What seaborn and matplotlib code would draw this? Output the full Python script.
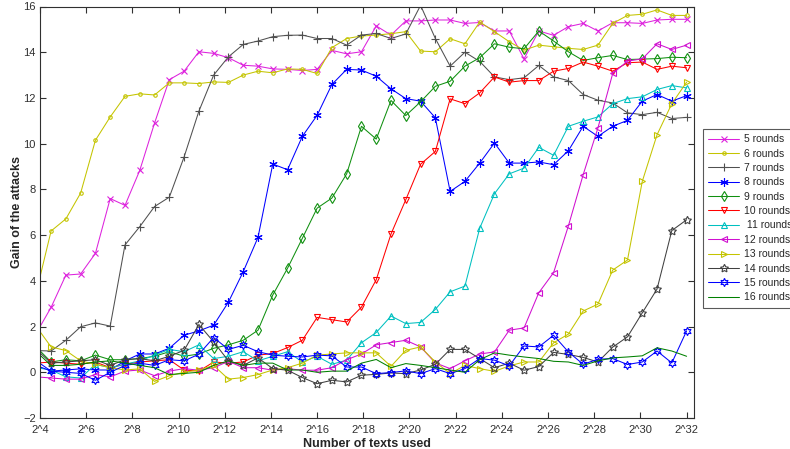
import numpy as np
import pandas as pd
import matplotlib
matplotlib.use("Agg")
import matplotlib.pyplot as plt
import seaborn as sns

# log2 of the number of texts: 45 sample points, the first one just left of 2^4
log2_texts = [round(32 - 0.64 * k, 2) for k in range(44, -1, -1)]

gain_5 = [1.71, 2.84, 4.25, 4.3, 5.2, 7.6, 7.3, 8.83, 10.9, 12.8, 13.17, 14.02, 13.95, 13.76, 13.43,
          13.39, 13.27, 13.25, 13.2, 13.25, 14.08, 13.93, 14.02, 15.15, 14.75, 15.37, 15.37, 15.41, 15.41,
          15.26, 15.3, 14.93, 14.93, 13.71, 14.93, 14.74, 15.12, 15.26, 14.93, 15.29, 15.29, 15.26, 15.41,
          15.44, 15.44]
gain_6 = [3.5, 6.18, 6.71, 7.84, 10.15, 11.17, 12.07, 12.18, 12.13, 12.66, 12.66, 12.63, 12.7, 12.68, 13.0,
          13.17, 13.1, 13.27, 13.25, 13.07, 14.2, 14.6, 14.71, 14.75, 14.81, 14.9, 14.05, 14.02, 14.59,
          14.37, 15.32, 14.9, 14.46, 14.09, 14.31, 14.24, 14.17, 14.12, 14.31, 15.26, 15.61, 15.66, 15.85,
          15.61, 15.61]
gain_7 = [0.95, 0.93, 1.4, 1.99, 2.16, 2.02, 5.57, 6.37, 7.25, 7.66, 9.42, 11.42, 13.0, 13.8, 14.34,
          14.49, 14.68, 14.74, 14.75, 14.6, 14.6, 14.31, 14.75, 14.82, 14.6, 14.8, 16.05, 14.6, 13.39,
          14.0, 13.6, 12.92, 12.8, 12.88, 13.42, 12.92, 12.76, 12.15, 11.9, 11.78, 11.35, 11.27, 11.37,
          11.1, 11.15]
gain_8 = [0.5, 0.05, 0.1, 0.15, 0.1, 0.1, 0.5, 0.8, 0.8, 1.05, 1.62, 1.81, 2.06, 3.07, 4.4,
          5.9, 9.11, 8.86, 10.32, 11.24, 12.59, 13.25, 13.22, 12.95, 12.4, 11.97, 11.86, 11.13, 7.91,
          8.35, 9.15, 10.03, 9.15, 9.15, 9.2, 9.08, 9.69, 10.76, 10.32, 10.76, 11.02, 11.86, 12.15,
          11.86, 12.1]
gain_9 = [1.1, 0.45, 0.55, 0.5, 0.75, 0.55, 0.55, 0.6, 0.7, 0.9, 0.7, 0.8, 1.05, 1.2, 1.4,
          1.84, 3.38, 4.55, 5.86, 7.18, 7.62, 8.68, 10.76, 10.2, 11.89, 11.23, 11.83, 12.51, 12.73,
          13.39, 13.76, 14.37, 14.22, 14.15, 14.93, 14.49, 14.02, 13.64, 13.76, 13.86, 13.68, 13.7, 13.72,
          13.78, 13.76]
gain_10 = [0.4, 0.45, 0.4, 0.35, 0.45, 0.2, 0.35, 0.45, 0.5, 0.55, 0.1, 0.05, 0.45, 0.4, 0.45,
           0.75, 0.82, 1.08, 1.4, 2.4, 2.3, 2.2, 2.85, 4.05, 6.05, 7.55, 9.1, 9.66, 11.96,
           11.75, 12.22, 12.92, 12.69, 12.76, 12.76, 13.17, 13.29, 13.57, 13.39, 13.17, 13.54, 13.57, 13.25,
           13.39, 13.32]
gain_11 = [0.2, 0.1, -0.2, -0.25, 0.35, 0.2, 0.35, 0.5, 0.75, 1.0, 0.9, 1.2, 0.6, 0.7, 0.9,
           0.5, 0.7, 0.9, 0.45, 0.7, 0.35, 0.53, 1.29, 1.74, 2.46, 2.13, 2.18, 2.75, 3.52,
           3.77, 6.3, 7.81, 8.68, 8.93, 9.84, 9.49, 10.76, 10.98, 11.17, 11.75, 11.97, 12.05, 12.37,
           12.54, 12.44]
gain_12 = [-0.2, -0.25, -0.3, -0.3, -0.1, -0.2, 0.05, 0.1, -0.15, 0.05, 0.16, 0.09, 0.2, 0.48, 0.2,
           0.2, 0.09, 0.16, 0.09, 0.09, 0.2, 0.55, 0.8, 1.2, 1.3, 1.4, 1.11, 0.41, 0.16,
           0.5, 0.8, 0.89, 1.84, 1.94, 3.48, 4.36, 6.4, 8.64, 10.69, 13.07, 13.61, 13.71, 14.37,
           14.12, 14.31]
gain_13 = [2.0, 1.11, 0.95, 0.5, 0.35, 0.2, 0.1, 0.15, -0.4, -0.15, 0.0, 0.1, 0.3, -0.3, -0.23,
           -0.1, 0.1, 0.2, 0.4, 0.75, 0.8, 0.85, 0.85, 0.85, 0.26, 0.96, 1.11, 0.45, -0.06,
           0.3, 0.16, 0.04, 0.28, 0.45, 0.45, 1.29, 1.67, 2.68, 2.98, 4.47, 4.91, 8.35, 10.39,
           11.75, 12.69]
gain_14 = [1.0, 0.4, 0.45, 0.5, 0.55, 0.3, 0.55, 0.6, 0.5, 0.7, 0.96, 2.09, 1.33, 0.5, 0.3,
           0.63, 0.16, 0.09, -0.23, -0.5, -0.35, -0.42, -0.13, -0.09, -0.03, -0.06, 0.1, 0.35, 1.0,
           1.0, 0.6, 0.2, 0.4, 0.09, 0.25, 0.87, 0.78, 0.65, 0.45, 1.1, 1.55, 2.6, 3.64,
           6.2, 6.67]
gain_15 = [0.3, 0.05, 0.0, -0.05, -0.35, 0.0, 0.3, 0.4, 0.3, 0.55, 0.5, 0.79, 1.52, 1.0, 1.18,
           0.9, 0.75, 0.7, 0.67, 0.75, 0.72, 0.23, 0.23, -0.06, -0.01, 0.06, -0.06, 0.16, -0.06,
           0.16, 0.6, 0.53, 0.28, 1.15, 1.11, 1.62, 0.89, 0.35, 0.57, 0.6, 0.34, 0.45, 0.93,
           0.41, 1.81]
gain_16 = [0.9, 0.3, 0.3, 0.35, 0.45, 0.5, 0.4, 0.3, 0.2, -0.1, -0.05, 0.0, 0.3, 0.5, 0.3,
           0.4, 0.4, 0.1, 0.1, 0.0, 0.05, 0.05, 0.4, 0.56, 0.2, 0.38, 0.3, 0.2, 0.1,
           0.0, 0.55, 0.85, 0.75, 0.67, 0.6, 0.48, 0.45, 0.3, 0.5, 0.63, 0.67, 0.72, 1.07,
           0.93, 0.7]

labels = ["5 rounds", "6 rounds", "7 rounds", "8 rounds", "9 rounds", "10 rounds",
          " 11 rounds", "12 rounds", "13 rounds", "14 rounds", "15 rounds", "16 rounds"]
series = [gain_5, gain_6, gain_7, gain_8, gain_9, gain_10,
          gain_11, gain_12, gain_13, gain_14, gain_15, gain_16]

# colour, marker, marker size for each round count
styles = [
    ("#DD22DD", "x", 5),
    ("#C4C400", ".", 5),
    ("#505050", "+", 6),
    ("#0000FF", (6, 2, 0), 6),
    ("#109010", "d", 5),
    ("#FF0000", "v", 5),
    ("#00C0C0", "^", 5),
    ("#D010D0", "<", 5),
    ("#C4C400", ">", 5),
    ("#404040", (5, 1, 0), 6),
    ("#0000FF", (6, 1, 0), 6),
    ("#008000", None, 5),
]

sns.set_theme(style="white")
plt.rcParams["font.family"] = ["Liberation Sans", "DejaVu Sans"]

fig = plt.figure(figsize=(7.9, 4.49), dpi=100)
ax = fig.add_axes([40 / 790, 31 / 449, 654 / 790, 411.5 / 449])

for lab, vals, (col, mk, ms) in zip(labels, series, styles):
    df = pd.DataFrame({"x": log2_texts, "gain": vals})
    kw = dict(color=col, linewidth=0.75, label=lab)
    if mk is not None:
        kw.update(marker=mk, markersize=ms, markeredgewidth=0.8,
                  markerfacecolor="none", markeredgecolor=col)
    sns.lineplot(data=df, x="x", y="gain", ax=ax, sort=False, **kw)

ax.set_xlim(4, 32.32)
ax.set_ylim(-2, 16)
xt = list(range(4, 33, 2))
ax.set_xticks(xt)
ax.set_xticklabels([f"2^{t}" for t in xt])
ax.set_yticks(range(-2, 17, 2))
ax.tick_params(axis="both", which="both", direction="in", length=4, width=0.8,
               top=True, right=True, labelsize=8, colors="#303030",
               bottom=True, left=True)
ax.tick_params(axis="x", pad=5)
ax.tick_params(axis="y", pad=3)
for s in ax.spines.values():
    s.set_color("#303030")
    s.set_linewidth(0.8)

ax.set_xlabel("Number of texts used", fontsize=9, fontweight="bold", labelpad=2)
ax.set_ylabel("Gain of the attacks", fontsize=9, fontweight="bold")
ax.yaxis.set_label_coords(-0.026, 0.5)

handles, hl = ax.get_legend_handles_labels()
leg = fig.legend(handles, hl, loc="upper left", bbox_to_anchor=(703 / 790, 1 - 129 / 449),
                 fontsize=7.5, frameon=True, fancybox=False, handlelength=3.0,
                 handletextpad=0.4, labelspacing=0.42, borderpad=0.5, borderaxespad=0)
leg.get_frame().set_edgecolor("#303030")
leg.get_frame().set_linewidth(0.8)
if ax.get_legend() is not None:
    ax.get_legend().remove()

fig.savefig("out.png", dpi=100)
